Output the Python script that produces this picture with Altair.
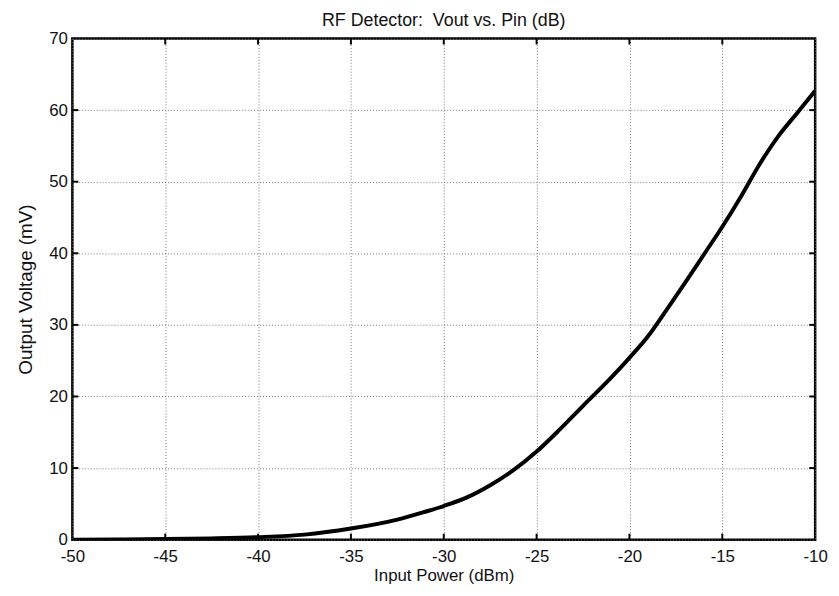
import altair as alt
import pandas as pd

# Curve
pin_dbm = [-50, -47.5, -45, -42.5, -40, -37.5, -35, -32.5, -31, -30, -28.75, -27.5,
           -26.25, -25, -23.75, -22.5, -21, -20, -19, -18, -17, -16, -15, -14, -13,
           -12, -11, -10]
vout_mv = [0.0, 0.03, 0.08, 0.18, 0.35, 0.7, 1.55, 2.8, 3.9, 4.7, 5.9, 7.6,
           9.7, 12.3, 15.4, 18.7, 22.6, 25.4, 28.4, 32.1, 35.9, 39.8, 43.7, 47.9, 52.4,
           56.3, 59.5, 62.7]

x_ticks = [-50, -45, -40, -35, -30, -25, -20, -15, -10]
y_ticks = [0, 10, 20, 30, 40, 50, 60, 70]
x_inner = [-45, -40, -35, -30, -25, -20, -15]
y_inner = [10, 20, 30, 40, 50, 60]

W, H = 750, 506
FONT = "Liberation Sans"

df = pd.DataFrame({"pin": pin_dbm, "vout": vout_mv})
dfx = pd.DataFrame({"xt": x_inner})
dfy = pd.DataFrame({"yt": y_inner})

xscale = alt.Scale(domain=[-50, -10], nice=False, zero=False)
yscale = alt.Scale(domain=[0, 70], nice=False)

line = alt.Chart(df).mark_line(color="black", strokeWidth=4, clip=True,
                               interpolate="monotone").encode(
    x=alt.X("pin:Q", scale=xscale,
            axis=alt.Axis(title="Input Power (dBm)", values=x_ticks, tickSize=0,
                          labelPadding=9, titlePadding=3, grid=True, domain=False,
                          labelFontSize=17, titleFontSize=17,
                          labelFlush=False, labelOverlap=False,
                          labelExpr="'' + datum.value")),
    y=alt.Y("vout:Q", scale=yscale,
            axis=alt.Axis(title="Output Voltage (mV)", values=y_ticks, tickSize=0,
                          labelPadding=5, titlePadding=13, grid=True, domain=False,
                          labelFontSize=17, titleFontSize=19,
                          labelFlush=False, labelOverlap=False)),
)

tick_bottom = alt.Chart(dfx).mark_rule(color="black", strokeWidth=2).encode(
    x=alt.X("xt:Q", scale=xscale), y=alt.value(H), y2=alt.value(H - 6))
tick_top = alt.Chart(dfx).mark_rule(color="black", strokeWidth=2).encode(
    x=alt.X("xt:Q", scale=xscale), y=alt.value(0), y2=alt.value(6))
tick_left = alt.Chart(dfy).mark_rule(color="black", strokeWidth=2).encode(
    y=alt.Y("yt:Q", scale=yscale), x=alt.value(0), x2=alt.value(6))
tick_right = alt.Chart(dfy).mark_rule(color="black", strokeWidth=2).encode(
    y=alt.Y("yt:Q", scale=yscale), x=alt.value(W), x2=alt.value(W - 6))

chart = alt.layer(line, tick_bottom, tick_top, tick_left, tick_right).properties(
    width=W, height=H,
    title=alt.TitleParams("RF Detector:\u00a0\u00a0Vout vs. Pin (dB)", font=FONT, fontSize=18,
                          fontWeight="normal", color="#111", offset=0),
    autosize="none",
    padding={"left": 65, "top": 28, "right": 16, "bottom": 46},
    background="white",
).configure_view(
    stroke="black", strokeWidth=2.5
).configure_axis(
    labelFont=FONT, labelColor="#111",
    titleFont=FONT, titleFontWeight="normal", titleColor="#111",
    gridColor="#777", gridDash=[1, 2], gridWidth=1, gridOpacity=1,
)

chart.save("out.html", embed_options={"renderer": "svg", "actions": False})
